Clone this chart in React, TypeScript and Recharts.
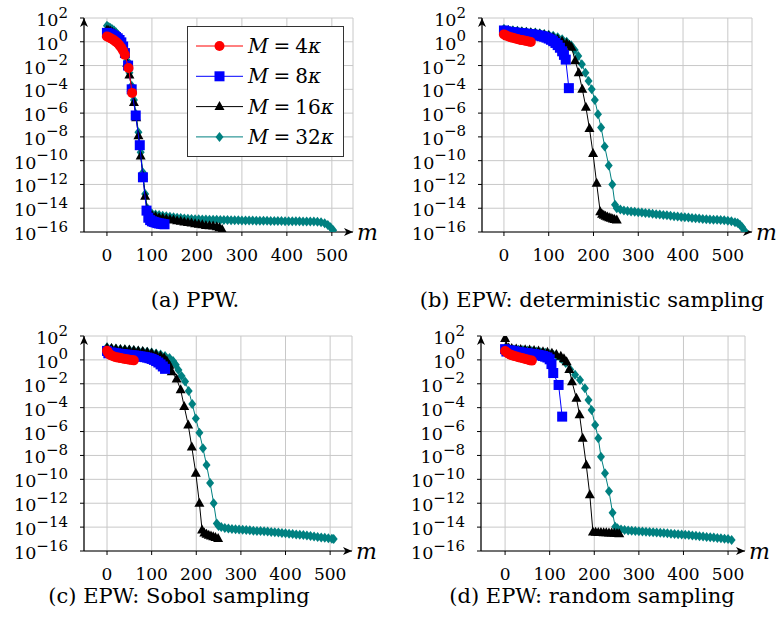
import React from 'react';
import { ScatterChart, Scatter, XAxis, YAxis, CartesianGrid } from 'recharts';

const FONT = "'DejaVu Serif'";
const RED = '#ff0000';
const BLUE = '#0000ff';
const BLACK = '#000000';
const TEAL = '#008080';

const xTicks = [0, 100, 200, 300, 400, 500];
const yTicks = [1e-16, 1e-14, 1e-12, 1e-10, 1e-8, 1e-6, 1e-4, 1e-2, 1, 1e2];
const multipliers = ['4', '8', '16', '32'];
const captions = ['(a) PPW.', '(b) EPW: deterministic sampling', '(c) EPW: Sobol sampling', '(d) EPW: random sampling'];

// Each entry: [m, log10(value)]
const ppw4 = [[0,0.45],[4,0.38],[8,0.3],[12,0.22],[16,0.12],[20,0.0],[24,-0.12],[28,-0.3],[32,-0.5],[36,-0.75],[40,-1.1],[48,-2.2],[56,-4.3]];
const ppw8 = [[0,0.75],[4,0.7],[8,0.64],[12,0.57],[16,0.49],[20,0.4],[24,0.29],[28,0.15],[32,-0.05],[36,-0.4],[40,-0.95],[47,-2.0],[55,-4.0],[64,-6.2],[73,-8.7],[80,-11.4],[88,-14.2],[92,-14.8],[96,-15.0],[100,-15.1],[104,-15.15],[108,-15.2],[112,-15.25],[116,-15.28],[120,-15.3],[124,-15.33],[128,-15.35]];
const ppw16 = [[0,1.0],[4,0.95],[8,0.88],[12,0.8],[16,0.7],[20,0.6],[24,0.46],[28,0.3],[32,0.08],[36,-0.3],[40,-0.9],[45,-1.8],[50,-2.8],[55,-3.9],[60,-5.1],[65,-6.4],[70,-7.9],[75,-9.6],[80,-11.3],[85,-13.0],[90,-14.2],[95,-14.5],[100,-14.6],[108,-14.7],[116,-14.8],[124,-14.85],[132,-14.9],[140,-14.95],[148,-15.0],[156,-15.05],[164,-15.1],[172,-15.15],[180,-15.2],[188,-15.25],[196,-15.3],[204,-15.35],[212,-15.4],[220,-15.45],[228,-15.48],[236,-15.5],[244,-15.55],[250,-15.65],[256,-15.8]];
const ppw32 = [[0,1.35],[4,1.25],[8,1.15],[12,1.05],[16,0.94],[20,0.8],[24,0.64],[28,0.45],[32,0.2],[36,-0.2],[40,-0.8],[45,-1.6],[50,-2.6],[55,-3.7],[60,-4.9],[65,-6.1],[70,-7.6],[75,-9.3],[80,-11.0],[85,-12.8],[90,-14.0],[95,-14.3],[100,-14.45],[108,-14.52],[116,-14.58],[124,-14.63],[132,-14.68],[140,-14.72],[148,-14.76],[156,-14.8],[164,-14.83],[172,-14.86],[180,-14.88],[188,-14.9],[196,-14.92],[204,-14.93],[212,-14.94],[220,-14.95],[228,-14.96],[236,-14.97],[244,-14.98],[252,-14.99],[260,-15.0],[268,-15.0],[276,-15.01],[284,-15.02],[292,-15.02],[300,-15.03],[308,-15.03],[316,-15.04],[324,-15.04],[332,-15.05],[340,-15.05],[348,-15.06],[356,-15.06],[364,-15.07],[372,-15.07],[380,-15.08],[388,-15.08],[396,-15.09],[404,-15.09],[412,-15.1],[420,-15.1],[428,-15.1],[436,-15.11],[444,-15.11],[452,-15.12],[460,-15.12],[468,-15.13],[476,-15.17],[484,-15.27],[491,-15.42],[497,-15.6],[503,-15.85]];

const det4 = [[0,0.62],[5,0.52],[10,0.45],[15,0.39],[20,0.33],[25,0.28],[30,0.23],[35,0.18],[40,0.14],[45,0.1],[50,0.06],[55,0.02],[60,-0.02]];
const det8 = [[0,0.95],[5,0.88],[10,0.84],[15,0.81],[20,0.79],[25,0.77],[30,0.75],[35,0.73],[40,0.71],[45,0.69],[50,0.67],[55,0.65],[60,0.63],[65,0.6],[70,0.58],[75,0.55],[80,0.51],[85,0.47],[90,0.42],[95,0.35],[100,0.27],[105,0.17],[110,0.05],[115,-0.1],[120,-0.28],[125,-0.5],[130,-0.8],[134,-1.1],[138,-1.5],[145,-3.9]];
const det16 = [[0,0.95],[10,0.9],[20,0.87],[30,0.84],[40,0.8],[50,0.77],[60,0.73],[70,0.69],[80,0.64],[90,0.57],[100,0.48],[110,0.36],[120,0.22],[130,0.05],[140,-0.15],[146,-0.3],[151,-0.45],[159,-1.6],[167,-2.6],[175,-4.0],[183,-5.5],[191,-7.3],[199,-9.4],[207,-11.9],[215,-14.3],[219,-14.5],[223,-14.6],[227,-14.68],[231,-14.74],[235,-14.8],[239,-14.85],[243,-14.9],[247,-14.95],[252,-15.0]];
const det32 = [[0,1.1],[10,1.0],[20,0.96],[30,0.92],[40,0.88],[50,0.85],[60,0.81],[70,0.77],[80,0.72],[90,0.66],[100,0.6],[110,0.5],[120,0.38],[130,0.22],[140,0.0],[150,-0.3],[158,-0.7],[166,-1.2],[174,-1.9],[182,-2.6],[189,-3.3],[196,-4.0],[203,-4.9],[210,-6.1],[217,-7.2],[225,-8.8],[234,-10.4],[242,-12.0],[248,-13.7],[252,-14.0],[260,-14.1],[268,-14.2],[276,-14.23],[284,-14.27],[292,-14.3],[300,-14.33],[308,-14.37],[316,-14.4],[324,-14.43],[332,-14.47],[340,-14.5],[348,-14.53],[356,-14.57],[364,-14.6],[372,-14.63],[380,-14.67],[388,-14.7],[396,-14.73],[404,-14.76],[412,-14.79],[420,-14.82],[428,-14.85],[436,-14.87],[444,-14.9],[452,-14.92],[460,-14.94],[468,-14.96],[476,-14.98],[484,-15.0],[492,-15.02],[500,-15.05],[508,-15.1],[516,-15.17],[522,-15.25],[527,-15.4],[532,-15.6],[537,-15.88]];

const sob4 = [[0,0.77],[2,0.65],[4,0.52],[7,0.42],[10,0.36],[15,0.28],[20,0.23],[25,0.19],[30,0.15],[35,0.11],[40,0.08],[45,0.05],[50,0.02],[55,-0.01],[60,-0.04]];
const sob8 = [[0,0.75],[3,0.55],[6,0.6],[10,0.62],[15,0.58],[20,0.55],[25,0.52],[30,0.5],[35,0.48],[40,0.45],[45,0.43],[50,0.41],[55,0.39],[60,0.37],[65,0.35],[70,0.32],[75,0.29],[80,0.26],[85,0.23],[90,0.19],[95,0.14],[100,0.08],[105,0.0],[110,-0.1],[115,-0.22],[120,-0.38],[125,-0.55],[130,-0.75]];
const sob16 = [[0,1.0],[10,0.95],[20,0.92],[30,0.88],[40,0.85],[50,0.82],[60,0.78],[70,0.74],[80,0.7],[90,0.64],[100,0.56],[110,0.46],[120,0.32],[128,0.15],[134,-0.1],[140,-0.45],[145,-1.0],[156,-1.6],[165,-2.5],[173,-3.9],[182,-5.45],[190,-7.3],[199,-9.5],[207,-12.0],[213,-14.25],[218,-14.5],[223,-14.6],[228,-14.68],[233,-14.74],[238,-14.8],[243,-14.86],[249,-14.95]];
const sob32 = [[0,1.05],[10,0.97],[20,0.93],[30,0.9],[40,0.87],[50,0.84],[60,0.8],[70,0.77],[80,0.73],[90,0.68],[100,0.62],[110,0.54],[120,0.45],[130,0.33],[140,0.15],[148,-0.1],[154,-0.4],[160,-0.85],[167,-1.35],[175,-1.8],[183,-2.6],[191,-3.7],[199,-4.9],[207,-6.1],[215,-7.4],[223,-8.8],[231,-10.3],[239,-12.0],[246,-13.7],[250,-13.9],[256,-14.0],[264,-14.07],[272,-14.12],[280,-14.15],[288,-14.18],[296,-14.2],[304,-14.22],[312,-14.25],[320,-14.27],[328,-14.3],[336,-14.32],[344,-14.33],[352,-14.35],[360,-14.37],[368,-14.4],[376,-14.43],[384,-14.46],[392,-14.49],[400,-14.52],[408,-14.55],[416,-14.58],[424,-14.61],[432,-14.64],[440,-14.67],[448,-14.7],[456,-14.74],[464,-14.78],[472,-14.82],[480,-14.86],[488,-14.9],[496,-14.94],[504,-14.98],[508,-15.0]];

const rnd4 = [[0,0.75],[4,0.63],[8,0.52],[12,0.44],[16,0.38],[20,0.33],[25,0.28],[30,0.23],[35,0.18],[40,0.13],[45,0.08],[50,0.03],[55,-0.02],[60,-0.06]];
const rnd8 = [[0,0.9],[3,0.7],[6,0.75],[10,0.8],[15,0.76],[20,0.72],[25,0.68],[30,0.65],[35,0.62],[40,0.6],[45,0.57],[50,0.55],[55,0.52],[60,0.5],[65,0.47],[70,0.44],[75,0.41],[80,0.37],[85,0.33],[90,0.27],[95,0.2],[100,0.05],[104,-0.35],[108,-1.1],[120,-2.1],[128,-4.75]];
const rnd16 = [[0,1.8],[3,1.1],[8,1.0],[15,0.95],[25,0.92],[35,0.88],[45,0.85],[55,0.82],[65,0.78],[75,0.74],[85,0.69],[95,0.63],[105,0.55],[115,0.45],[125,0.3],[132,0.1],[138,-0.15],[144,-0.8],[150,-1.83],[160,-3.22],[167,-4.6],[174,-6.57],[182,-8.8],[190,-11.3],[197,-14.4],[203,-14.43],[209,-14.45],[215,-14.46],[221,-14.47],[227,-14.48],[233,-14.5],[239,-14.5],[245,-14.52],[251,-14.53],[256,-14.55]];
const rnd32 = [[0,1.0],[10,0.92],[20,0.88],[30,0.85],[40,0.82],[50,0.78],[60,0.74],[70,0.7],[80,0.65],[90,0.59],[100,0.5],[108,0.42],[116,0.32],[126,0.1],[136,-0.25],[146,-0.8],[157,-1.25],[168,-1.69],[179,-2.38],[187,-3.36],[194,-4.2],[202,-5.45],[209,-6.57],[215,-8.1],[224,-9.5],[233,-11.0],[241,-12.8],[247,-13.97],[252,-14.1],[260,-14.2],[268,-14.25],[276,-14.28],[284,-14.3],[292,-14.33],[300,-14.35],[308,-14.37],[316,-14.39],[324,-14.41],[332,-14.43],[340,-14.45],[348,-14.47],[356,-14.5],[364,-14.52],[372,-14.55],[380,-14.57],[388,-14.6],[396,-14.62],[404,-14.64],[412,-14.67],[420,-14.7],[428,-14.73],[436,-14.76],[444,-14.79],[452,-14.82],[460,-14.85],[468,-14.88],[476,-14.91],[484,-14.94],[492,-14.97],[500,-15.0],[508,-15.08]];

const toPoints = (arr: number[][]) => arr.map(([m, e]) => ({ m, v: Math.pow(10, e) }));

const drawCircle = (color: string) => (p: any) => <circle cx={p.cx} cy={p.cy} r={5} fill={color} />;
const drawSquare = (color: string) => (p: any) => <rect x={p.cx - 5} y={p.cy - 5} width={10} height={10} fill={color} />;
const drawTriangle = (color: string) => (p: any) => (
  <polygon points={`${p.cx},${p.cy - 5.5} ${p.cx + 5},${p.cy + 3.5} ${p.cx - 5},${p.cy + 3.5}`} fill={color} />
);
const drawDiamond = (color: string) => (p: any) => (
  <polygon points={`${p.cx},${p.cy - 5} ${p.cx + 4},${p.cy} ${p.cx},${p.cy + 5} ${p.cx - 4},${p.cy}`} fill={color} />
);

const seriesStyle = [
  { color: RED, shape: drawCircle },
  { color: BLUE, shape: drawSquare },
  { color: BLACK, shape: drawTriangle },
  { color: TEAL, shape: drawDiamond },
];

const panels = [
  { key: 'a', left: 0, top: 0, width: 390, height: 320, yw: 84, margin: { top: 18, right: 37, bottom: 58, left: 0 }, xDomain: [-51, 547], data: [ppw4, ppw8, ppw16, ppw32] },
  { key: 'b', left: 390, top: 0, width: 389, height: 320, yw: 92, margin: { top: 18, right: 27, bottom: 58, left: 0 }, xDomain: [-49, 554], data: [det4, det8, det16, det32] },
  { key: 'c', left: 0, top: 320, width: 390, height: 310, yw: 84, margin: { top: 16, right: 38, bottom: 49, left: 0 }, xDomain: [-51.6, 549], data: [sob4, sob8, sob16, sob32] },
  { key: 'd', left: 390, top: 320, width: 389, height: 310, yw: 91, margin: { top: 16, right: 34, bottom: 49, left: 0 }, xDomain: [-54, 538], data: [rnd4, rnd8, rnd16, rnd32] },
];

const captionPos = [
  { x: 195, y: 307 },
  { x: 592, y: 307 },
  { x: 179, y: 603 },
  { x: 592, y: 603 },
];

const YTick = (p: any) => {
  const val = p.payload.value;
  const exp = Math.round(Math.log10(val));
  const expText = exp < 0 ? '\u2212' + Math.abs(exp) : String(exp);
  return (
    <text x={p.x - 10} y={p.y + 8} textAnchor="end" fontFamily={FONT} fontSize={17.5} fill="#000">
      10<tspan dy={-8.5} fontSize={15}>{expText}</tspan>
    </text>
  );
};

const XTick = (p: any) => (
  <text x={p.x} y={p.y + 23} textAnchor="middle" fontFamily={FONT} fontSize={17} fill="#000">
    {p.payload.value}
  </text>
);

const XArrow = (props: any) => {
  const vb = props.viewBox || props;
  const tipX = vb.x + vb.width;
  const y = vb.y;
  return (
    <g>
      <path d={`M${tipX} ${y} L${tipX - 9} ${y - 4} L${tipX - 6.5} ${y} L${tipX - 9} ${y + 4} Z`} fill="#000" />
      <text x={tipX + 4} y={y + 8} fontFamily={FONT} fontStyle="italic" fontSize={22} fill="#000">m</text>
    </g>
  );
};

const YArrow = (props: any) => {
  const vb = props.viewBox || props;
  const ax = vb.x + vb.width;
  const y = vb.y;
  return <path d={`M${ax} ${y} L${ax - 4} ${y + 9} L${ax} ${y + 6.5} L${ax + 4} ${y + 9} Z`} fill="#000" />;
};

function Panel({ cfg }: any) {
  return (
    <div style={{ position: 'absolute', left: cfg.left, top: cfg.top }}>
      <ScatterChart width={cfg.width} height={cfg.height} margin={cfg.margin}>
        <CartesianGrid stroke="#c8c8c8" strokeWidth={1} />
        <XAxis
          type="number"
          dataKey="m"
          domain={cfg.xDomain}
          ticks={xTicks}
          allowDataOverflow
          height={30}
          tickSize={4}
          tick={<XTick />}
          axisLine={{ stroke: '#000', strokeWidth: 1.2 }}
          tickLine={{ stroke: '#000' }}
          label={XArrow}
        />
        <YAxis
          type="number"
          dataKey="v"
          scale="log"
          domain={[1e-16, 100]}
          ticks={yTicks}
          allowDataOverflow
          width={cfg.yw}
          tickSize={4}
          tick={<YTick />}
          axisLine={{ stroke: '#000', strokeWidth: 1.2 }}
          tickLine={{ stroke: '#000' }}
          label={YArrow}
        />
        {[3, 2, 1, 0].map((i) => (
          <Scatter
            key={i}
            data={toPoints(cfg.data[i])}
            fill={seriesStyle[i].color}
            line={{ stroke: seriesStyle[i].color, strokeWidth: 1 }}
            lineType="joint"
            shape={seriesStyle[i].shape(seriesStyle[i].color)}
            isAnimationActive={false}
          />
        ))}
      </ScatterChart>
    </div>
  );
}

function LegendBox() {
  return (
    <div style={{ position: 'absolute', left: 187, top: 26, width: 157, height: 131, background: '#fff', border: '1px solid #333', boxSizing: 'border-box' }}>
      <svg width={155} height={129}>
        {multipliers.map((mult, i) => {
          const cy = 19 + i * 30.3;
          const st = seriesStyle[i];
          return (
            <g key={mult}>
              <line x1={8} x2={55} y1={cy} y2={cy} stroke={st.color} strokeWidth={1} />
              {st.shape(st.color)({ cx: 31.5, cy })}
              <text x={60} y={cy + 7} fontFamily={FONT} fontSize={20} fill="#000">
                <tspan fontStyle="italic">M</tspan>
                <tspan dx={5}>=</tspan>
                <tspan dx={5}>{mult}</tspan>
                <tspan fontStyle="italic">κ</tspan>
              </text>
            </g>
          );
        })}
      </svg>
    </div>
  );
}

export default function App() {
  return (
    <div style={{ position: 'absolute', left: 0, top: 0, width: 779, height: 630, background: '#fff' }}>
      {panels.map((cfg) => (
        <Panel key={cfg.key} cfg={cfg} />
      ))}
      <LegendBox />
      <svg style={{ position: 'absolute', left: 0, top: 0, pointerEvents: 'none' }} width={779} height={630}>
        {captions.map((c, i) => (
          <text key={c} x={captionPos[i].x} y={captionPos[i].y} textAnchor="middle" fontFamily={FONT} fontSize={21} fill="#000">
            {c}
          </text>
        ))}
      </svg>
    </div>
  );
}
